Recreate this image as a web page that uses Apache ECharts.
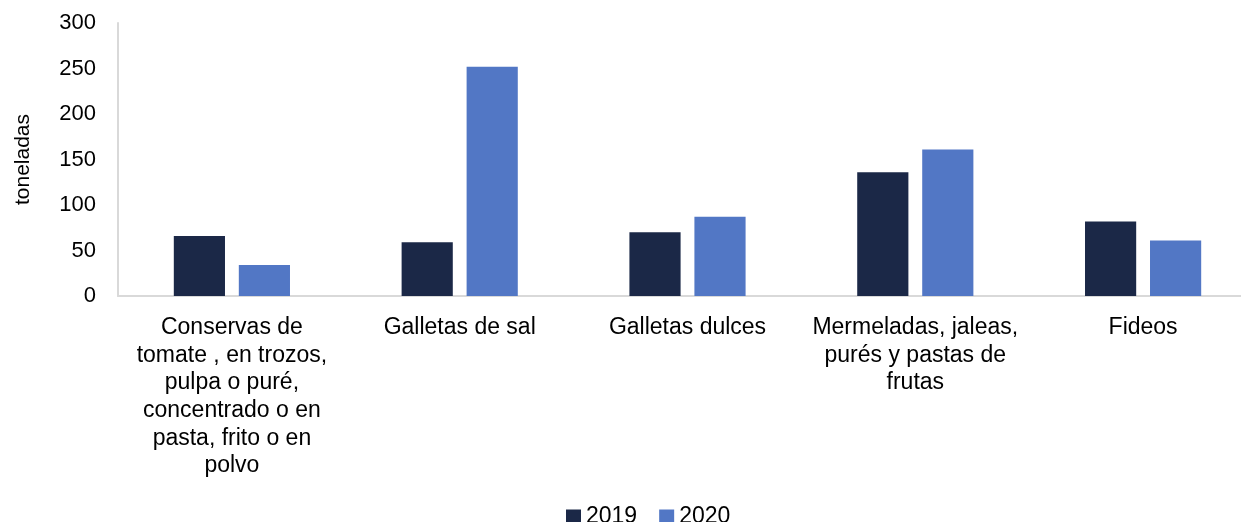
<!DOCTYPE html>
<html>
<head>
<meta charset="utf-8">
<script src="https://cdn.jsdelivr.net/npm/echarts@6/dist/echarts.min.js"></script>
<style>html,body{margin:0;padding:0;background:#fff;overflow:hidden;}#c{width:1257px;height:522px;}</style>
</head>
<body>
<div id="c"></div>
<script>
const categories = [
  "Conservas de\ntomate , en trozos,\npulpa o puré,\nconcentrado o en\npasta, frito o en\npolvo",
  "Galletas de sal",
  "Galletas dulces",
  "Mermeladas, jaleas,\npurés y pastas de\nfrutas",
  "Fideos"
];
const seriesNames = ["2019", "2020"];
const values2019 = [66, 59, 70, 136, 82];
const values2020 = [34, 252, 87, 161, 61];
const yTicks = { min: 0, max: 300, interval: 50 };

const chart = echarts.init(document.getElementById('c'), null, { renderer: 'canvas' });
const font = '"Liberation Sans", Arial, sans-serif';
chart.setOption({
  animation: false,
  backgroundColor: '#ffffff',
  textStyle: { fontFamily: font },
  grid: { left: 118, right: 0, top: 23, bottom: 226, containLabel: false },
  legend: {
    data: seriesNames,
    left: 561,
    top: 500,
    itemWidth: 15,
    itemHeight: 14,
    itemGap: 22,
    icon: 'rect',
    textStyle: { fontFamily: font, fontSize: 23, color: '#000' }
  },
  xAxis: {
    type: 'category',
    data: categories,
    axisLine: { lineStyle: { color: '#d9d9d9', width: 2 } },
    axisTick: { show: false },
    axisLabel: { interval: 0, fontFamily: font, fontSize: 23, color: '#000', lineHeight: 27.6, margin: 18 }
  },
  yAxis: {
    type: 'value',
    min: yTicks.min, max: yTicks.max, interval: yTicks.interval,
    name: 'toneladas',
    nameLocation: 'middle',
    nameRotate: 90,
    nameGap: 84,
    nameTextStyle: { fontFamily: font, fontSize: 21, color: '#000' },
    axisLine: { show: true, lineStyle: { color: '#d9d9d9', width: 2 } },
    axisTick: { show: false },
    splitLine: { show: false },
    axisLabel: { fontFamily: font, fontSize: 22, color: '#000', margin: 22 }
  },
  series: [
    { name: seriesNames[0], type: 'bar', data: values2019, barGap: '27%', barCategoryGap: '49%',
      itemStyle: { color: '#1b2847' } },
    { name: seriesNames[1], type: 'bar', data: values2020, barGap: '27%', barCategoryGap: '49%',
      itemStyle: { color: '#5277c5' } }
  ]
});
</script>
</body>
</html>
